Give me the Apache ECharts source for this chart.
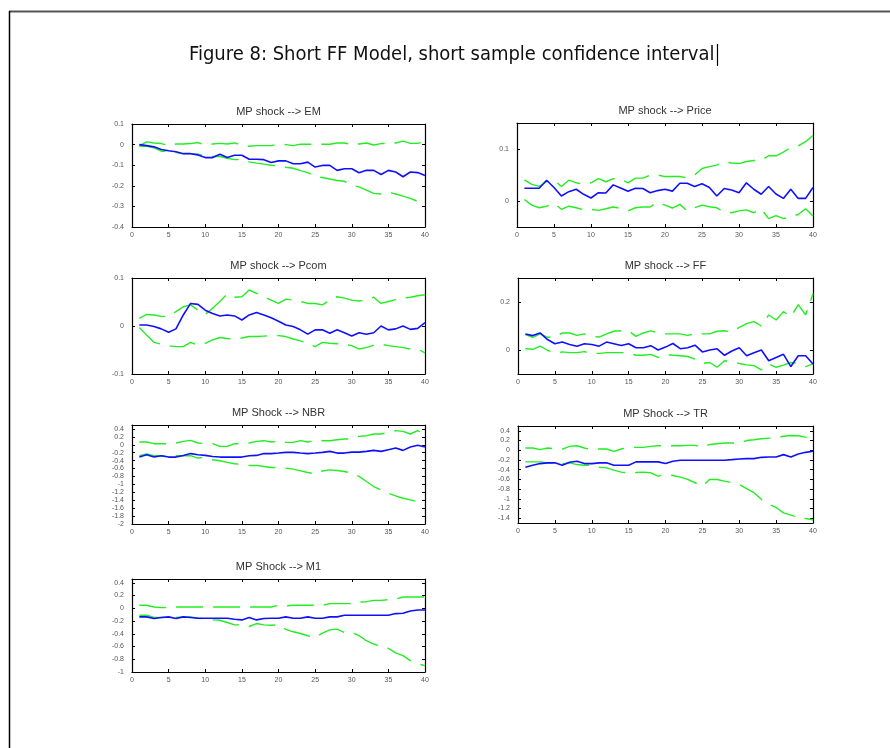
<!DOCTYPE html>
<html>
<head>
<meta charset="utf-8">
<script src="https://cdn.jsdelivr.net/npm/echarts@6/dist/echarts.min.js"></script>
<style>
  html, body { margin: 0; padding: 0; background: #fff; }
  #chart { width: 890px; height: 748px; }
</style>
</head>
<body>
<div id="chart"></div>
<script>
// Forecast horizons (quarters after the shock)
const horizons = [1,2,3,4,5,6,7,8,9,10,11,12,13,14,15,16,17,18,19,20,
                  21,22,23,24,25,26,27,28,29,30,31,32,33,34,35,36,37,38,39,40];
const xTicks = [0,5,10,15,20,25,30,35,40];

// MP shock --> EM
const emIrf = [0,-0.005,-0.011,-0.024,-0.03,-0.035,-0.044,-0.044,-0.05,-0.063,-0.063,-0.047,-0.063,-0.052,-0.052,-0.071,-0.071,-0.073,-0.087,-0.079,
               -0.079,-0.093,-0.093,-0.085,-0.109,-0.101,-0.101,-0.125,-0.117,-0.117,-0.137,-0.125,-0.125,-0.145,-0.125,-0.133,-0.156,-0.133,-0.136,-0.15];
const emUpper = [-0.005,0.013,0.008,0.005,-0.005,0.003,0.003,0.005,0.01,-0.002,0.003,0.006,0.003,0.008,-0.003,-0.008,-0.005,-0.005,-0.005,0.003,
                 0,-0.005,0.002,0.002,0.002,0.002,0.002,0.008,0.008,0,0.003,0.008,-0.002,0.005,0.005,0.008,0.017,0.006,0.006,0.014];
const emLower = [-0.008,-0.008,-0.016,-0.032,-0.032,-0.039,-0.044,-0.044,-0.046,-0.055,-0.058,-0.058,-0.066,-0.073,-0.073,-0.084,-0.09,-0.095,-0.1,-0.104,
                 -0.11,-0.115,-0.126,-0.136,-0.155,-0.16,-0.167,-0.174,-0.178,-0.197,-0.205,-0.221,-0.237,-0.24,-0.231,-0.24,-0.25,-0.261,-0.276,-0.3];

// MP shock --> Price
const priceIrf = [0.0245,0.0245,0.0245,0.04,0.026,0.0097,0.018,0.0226,0.0129,0.0058,0.016,0.0155,0.031,0.025,0.0187,0.0245,0.024,0.016,0.02,0.0226,
                  0.019,0.034,0.034,0.028,0.033,0.026,0.0097,0.024,0.021,0.016,0.035,0.0226,0.013,0.028,0.0135,0.005,0.0226,0.005,0.005,0.026];
const priceUpper = [0.0406,0.032,0.028,0.037,0.04,0.028,0.04,0.035,0.032,0.035,0.043,0.037,0.043,0.042,0.035,0.044,0.044,0.05,0.05,0.047,
                    0.047,0.047,0.0445,0.05,0.0626,0.066,0.069,0.0755,0.073,0.072,0.076,0.078,0.078,0.087,0.087,0.094,0.103,0.106,0.114,0.126];
const priceLower = [0.003,-0.008,-0.013,-0.01,-0.0045,-0.016,-0.01,-0.013,-0.017,-0.016,-0.018,-0.015,-0.0116,-0.014,-0.019,-0.013,-0.0116,-0.0116,-0.002,-0.008,
                    -0.0135,-0.0065,-0.019,-0.013,-0.008,-0.011,-0.013,-0.0206,-0.0226,-0.019,-0.017,-0.0226,-0.015,-0.034,-0.028,-0.034,-0.03,-0.026,-0.015,-0.029];

// MP shock --> Pcom
const pcomIrf = [0.002,0.002,-0.001,-0.006,-0.013,-0.006,0.023,0.047,0.045,0.033,0.026,0.021,0.023,0.021,0.0125,0.023,0.028,0.023,0.017,0.01,
                 0.002,-0.001,-0.008,-0.017,-0.008,-0.008,-0.015,-0.008,-0.014,-0.021,-0.014,-0.017,-0.014,0,-0.008,-0.006,0,-0.007,-0.005,0.007];
const pcomUpper = [0.016,0.024,0.023,0.02,0.02,0.03,0.04,0.044,0.033,0.024,0.037,0.051,0.067,0.06,0.061,0.075,0.068,0.061,0.054,0.047,
                   0.056,0.054,0.051,0.047,0.047,0.044,0.054,0.061,0.058,0.054,0.052,0.054,0.06,0.047,0.051,0.055,0.058,0.06,0.063,0.065];
const pcomLower = [-0.003,-0.019,-0.034,-0.038,-0.041,-0.043,-0.043,-0.034,-0.04,-0.036,-0.029,-0.024,-0.026,-0.027,-0.025,-0.022,-0.022,-0.021,-0.02,-0.02,
                   -0.022,-0.027,-0.031,-0.036,-0.043,-0.034,-0.036,-0.037,-0.038,-0.041,-0.048,-0.045,-0.04,-0.038,-0.041,-0.043,-0.045,-0.048,-0.048,-0.056];

// MP shock --> FF
const ffIrf = [0.0667,0.06,0.071,0.0435,0.026,0.033,0.023,0.016,0.026,0.023,0.016,0.033,0.026,0.019,0.026,0.0095,0.0095,0.018,0,0.012,
               0.027,0.0054,0.0095,0.02,-0.008,0,0.005,-0.022,-0.004,0.0095,-0.024,-0.011,0,-0.045,-0.031,-0.018,-0.069,-0.024,-0.024,-0.058];
const ffUpper = [0.064,0.053,0.067,0.053,0.053,0.071,0.071,0.061,0.067,0.057,0.054,0.067,0.078,0.08,0.08,0.057,0.071,0.08,0.071,0.067,
                 0.067,0.067,0.061,0.067,0.067,0.067,0.078,0.08,0.075,0.094,0.11,0.118,0.1,0.146,0.125,0.16,0.139,0.189,0.146,0.234];
const ffLower = [0.0054,0.003,0.016,-0.001,-0.014,-0.008,-0.011,-0.011,-0.007,-0.014,-0.014,-0.011,-0.011,-0.011,-0.011,-0.022,-0.022,-0.018,-0.031,-0.018,
                 -0.022,-0.024,-0.027,-0.038,-0.056,-0.052,-0.072,-0.045,-0.048,-0.056,-0.062,-0.065,-0.083,-0.058,-0.072,-0.063,-0.052,-0.056,-0.069,-0.058];

// MP Shock --> NBR
const nbrIrf = [-0.31,-0.25,-0.31,-0.275,-0.31,-0.31,-0.268,-0.222,-0.25,-0.268,-0.296,-0.31,-0.31,-0.31,-0.31,-0.275,-0.268,-0.222,-0.222,-0.209,
                -0.191,-0.191,-0.209,-0.222,-0.209,-0.191,-0.166,-0.209,-0.209,-0.184,-0.184,-0.166,-0.141,-0.166,-0.124,-0.082,-0.141,-0.056,-0.013,-0.056];
const nbrUpper = [0.07,0.07,0.028,0.028,0.028,0.045,0.087,0.112,0.045,0.028,0.028,-0.04,-0.04,0.028,0.028,0.045,0.087,0.104,0.07,0.087,
                  0.062,0.062,0.104,0.07,0.112,0.104,0.104,0.129,0.146,0.146,0.214,0.23,0.273,0.273,0.315,0.358,0.34,0.273,0.358,0.273];
const nbrLower = [-0.275,-0.233,-0.275,-0.275,-0.31,-0.275,-0.275,-0.275,-0.335,-0.317,-0.377,-0.403,-0.445,-0.479,-0.494,-0.521,-0.521,-0.547,-0.572,-0.572,
                  -0.589,-0.615,-0.657,-0.7,-0.733,-0.662,-0.632,-0.648,-0.673,-0.716,-0.798,-0.927,-1.054,-1.139,-1.223,-1.29,-1.35,-1.392,-1.435,-1.502];

// MP Shock --> TR
const trIrf = [-0.35,-0.31,-0.275,-0.26,-0.26,-0.31,-0.247,-0.227,-0.275,-0.275,-0.26,-0.26,-0.31,-0.31,-0.31,-0.24,-0.24,-0.24,-0.24,-0.275,
               -0.227,-0.206,-0.206,-0.206,-0.206,-0.206,-0.206,-0.206,-0.193,-0.179,-0.172,-0.172,-0.146,-0.138,-0.138,-0.09,-0.138,-0.077,-0.043,-0.022];
const trUpper = [0.046,0.046,0.012,0.046,0.03,0.025,0.08,0.093,0.046,0.012,0.025,0.025,-0.022,0.025,0.059,0.059,0.059,0.08,0.093,0.093,
                 0.093,0.093,0.1,0.1,0.059,0.12,0.134,0.148,0.148,0.148,0.2,0.216,0.236,0.25,0.25,0.29,0.305,0.298,0.27,0.25];
const trLower = [-0.24,-0.24,-0.24,-0.26,-0.27,-0.275,-0.26,-0.295,-0.31,-0.31,-0.35,-0.363,-0.411,-0.452,-0.465,-0.46,-0.452,-0.465,-0.533,-0.5,
                 -0.52,-0.554,-0.602,-0.67,-0.738,-0.6,-0.602,-0.636,-0.67,-0.704,-0.793,-0.875,-1.01,-1.113,-1.18,-1.29,-1.338,-1.386,-1.406,-1.434];

// MP Shock --> M1
const m1Irf = [-0.135,-0.135,-0.161,-0.145,-0.135,-0.161,-0.135,-0.145,-0.156,-0.156,-0.156,-0.156,-0.156,-0.171,-0.182,-0.145,-0.182,-0.161,-0.156,-0.156,
               -0.135,-0.156,-0.156,-0.135,-0.156,-0.156,-0.135,-0.135,-0.109,-0.109,-0.109,-0.109,-0.109,-0.109,-0.109,-0.083,-0.078,-0.042,-0.026,-0.026];
const m1Upper = [0.047,0.047,0.021,0.01,0.015,0.021,0.021,0.021,0.021,0.021,0.021,0.021,0.021,0.021,0.021,0.021,0.021,0.021,0.021,0.047,
                 0.036,0.047,0.047,0.047,0.047,0.047,0.073,0.073,0.073,0.073,0.099,0.104,0.125,0.125,0.135,0.145,0.177,0.177,0.177,0.177];
const m1Lower = [-0.109,-0.109,-0.145,-0.145,-0.14,-0.145,-0.135,-0.135,-0.156,-0.165,-0.182,-0.187,-0.223,-0.26,-0.26,-0.286,-0.239,-0.26,-0.265,-0.26,
                 -0.33,-0.369,-0.395,-0.431,-0.457,-0.39,-0.338,-0.327,-0.379,-0.379,-0.43,-0.509,-0.561,-0.597,-0.629,-0.7,-0.743,-0.821,-0.873,-0.899];

// y-axis ranges and tick labels for each panel
const emRange = [-0.4, 0.1],   emTicks = [-0.4,-0.3,-0.2,-0.1,0,0.1];
const priceRange = [-0.05, 0.15], priceTicks = [0, 0.1];
const pcomRange = [-0.1, 0.1], pcomTicks = [-0.1, 0, 0.1];
const ffRange = [-0.1, 0.3],   ffTicks = [0, 0.2];
const nbrRange = [-2, 0.5],    nbrTicks = [-2,-1.8,-1.6,-1.4,-1.2,-1,-0.8,-0.6,-0.4,-0.2,0,0.2,0.4];
const trRange = [-1.5, 0.5],   trTicks = [-1.4,-1.2,-1,-0.8,-0.6,-0.4,-0.2,0,0.2,0.4];
const m1Range = [-1, 0.46],    m1Ticks = [-1,-0.8,-0.6,-0.4,-0.2,0,0.2,0.4];

const panels = [
  { title: 'MP shock --> EM',    box: [132, 124, 293, 103], range: emRange,    ticks: emTicks,    irf: emIrf,    upper: emUpper,    lower: emLower },
  { title: 'MP shock --> Price', box: [517, 123, 296, 104], range: priceRange, ticks: priceTicks, irf: priceIrf, upper: priceUpper, lower: priceLower },
  { title: 'MP shock --> Pcom',  box: [132, 278, 293, 96],  range: pcomRange,  ticks: pcomTicks,  irf: pcomIrf,  upper: pcomUpper,  lower: pcomLower },
  { title: 'MP shock --> FF',    box: [518, 278, 295, 96],  range: ffRange,    ticks: ffTicks,    irf: ffIrf,    upper: ffUpper,    lower: ffLower },
  { title: 'MP Shock --> NBR',   box: [132, 425, 293, 99],  range: nbrRange,   ticks: nbrTicks,   irf: nbrIrf,   upper: nbrUpper,   lower: nbrLower },
  { title: 'MP Shock --> TR',    box: [518, 426, 295, 97],  range: trRange,    ticks: trTicks,    irf: trIrf,    upper: trUpper,    lower: trLower },
  { title: 'MP Shock --> M1',    box: [132, 579, 293, 93],  range: m1Range,    ticks: m1Ticks,    irf: m1Irf,    upper: m1Upper,    lower: m1Lower }
];

const FONT = "'Liberation Sans', Arial, sans-serif";
const pairs = (vals) => horizons.map((h, i) => [h, vals[i]]);
const fmt = (v) => String(Math.round(v * 100) / 100);

const grid = [], xAxis = [], yAxis = [], series = [], graphic = [];

panels.forEach((p, i) => {
  const [left, top, width, height] = p.box;
  grid.push({ left, top, width, height, show: false });

  const xBase = {
    type: 'value', gridIndex: i, min: 0, max: 40,
    axisLine: { show: true, onZero: false, lineStyle: { color: '#000', width: 1.2 } },
    axisTick: { show: true, inside: true, length: 3, customValues: xTicks, lineStyle: { color: '#000' } },
    splitLine: { show: false }
  };
  // bottom axis with labels, top axis mirrored ticks only
  xAxis.push(Object.assign({}, xBase, {
    position: 'bottom',
    axisLabel: { show: true, customValues: xTicks, fontSize: 7, color: '#555', margin: 5, fontFamily: FONT, formatter: fmt }
  }));
  xAxis.push(Object.assign({}, xBase, { position: 'top', axisLabel: { show: false } }));

  const yBase = {
    type: 'value', gridIndex: i, min: p.range[0], max: p.range[1],
    axisLine: { show: true, onZero: false, lineStyle: { color: '#000', width: 1.2 } },
    axisTick: { show: true, inside: true, length: 3, customValues: p.ticks, lineStyle: { color: '#000' } },
    splitLine: { show: false }
  };
  yAxis.push(Object.assign({}, yBase, {
    position: 'left',
    axisLabel: { show: true, customValues: p.ticks, fontSize: 7, color: '#555', margin: 8, fontFamily: FONT, formatter: fmt }
  }));
  yAxis.push(Object.assign({}, yBase, { position: 'right', axisLabel: { show: false } }));

  const xi = i * 2, yi = i * 2;
  const band = (name, vals) => ({
    name, type: 'line', xAxisIndex: xi, yAxisIndex: yi, data: pairs(vals),
    symbol: 'none', silent: true, z: 2,
    lineStyle: { color: '#22ee22', width: 1.4, type: [27, 10] }
  });
  series.push(band(p.title + ' upper', p.upper));
  series.push(band(p.title + ' lower', p.lower));
  series.push({
    name: p.title, type: 'line', xAxisIndex: xi, yAxisIndex: yi, data: pairs(p.irf),
    symbol: 'none', silent: true, z: 3,
    lineStyle: { color: '#1010ff', width: 1.6 }
  });

  graphic.push({
    type: 'text', x: left + width / 2, y: top - 12,
    style: { text: p.title, textAlign: 'center', textVerticalAlign: 'middle', align: 'center', verticalAlign: 'middle',
             fontSize: 11, fontFamily: FONT, fill: '#333' }
  });
});

// page frame
graphic.push({ type: 'line', shape: { x1: 9, y1: 11.5, x2: 890, y2: 11.5 }, style: { stroke: '#555', lineWidth: 2 } });
graphic.push({ type: 'line', shape: { x1: 9.5, y1: 11, x2: 9.5, y2: 748 }, style: { stroke: '#000', lineWidth: 1.5 } });

// figure heading
graphic.push({
  type: 'text', x: 189, y: 55,
  style: { text: 'Figure 8: Short FF Model, short sample confidence interval',
           textAlign: 'left', textVerticalAlign: 'middle', align: 'left', verticalAlign: 'middle',
           fontSize: 20, fontFamily: "'Liberation Sans Narrow', 'Arial Narrow', 'DejaVu Sans Condensed', sans-serif", fill: '#111' }
});
graphic.push({ type: 'line', shape: { x1: 717.5, y1: 44, x2: 717.5, y2: 66 }, style: { stroke: '#000', lineWidth: 1.2 } });

const chart = echarts.init(document.getElementById('chart'), null, { renderer: 'canvas' });
chart.setOption({ animation: false, backgroundColor: '#fff', grid, xAxis, yAxis, series, graphic });
</script>
</body>
</html>
